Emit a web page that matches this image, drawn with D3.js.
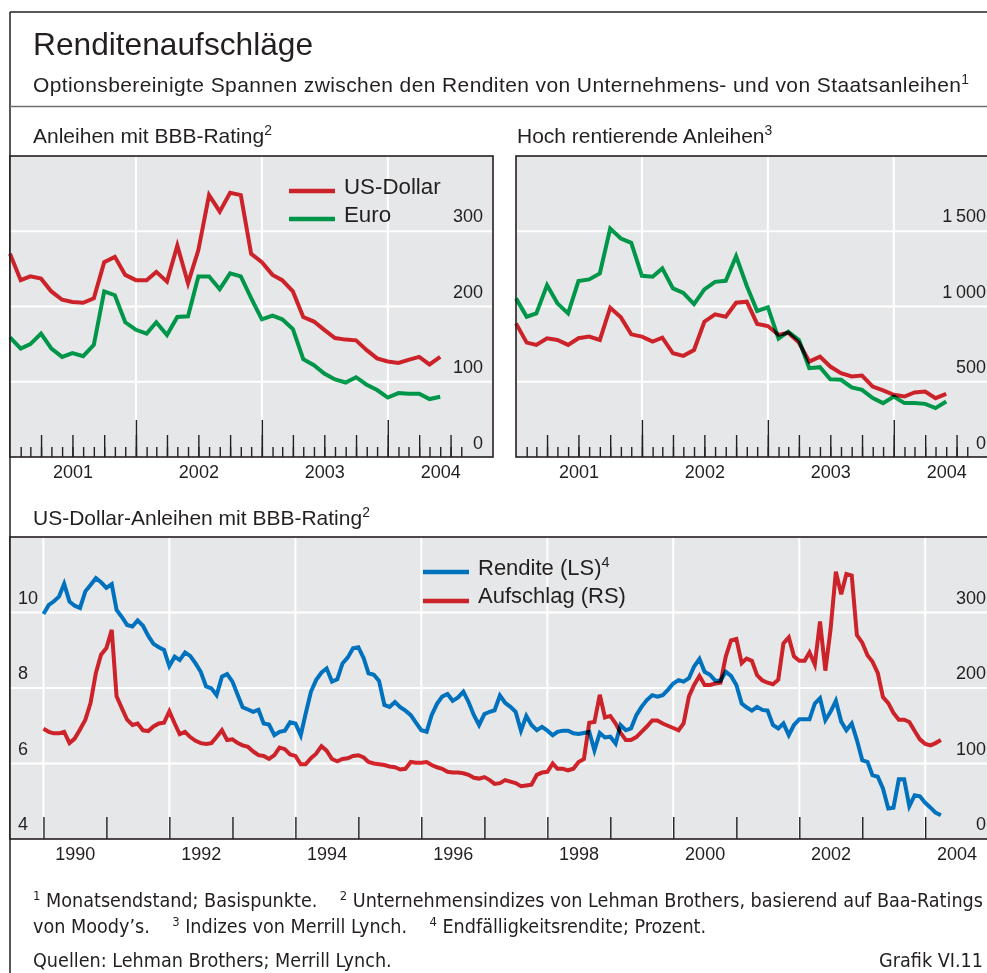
<!DOCTYPE html>
<html>
<head>
<meta charset="utf-8">
<script src="https://cdn.jsdelivr.net/npm/d3@7"></script>
<style>
    body { margin: 0; background: #fff; }
    svg { display: block; font-family: "Liberation Sans", Arial, sans-serif; }
    .pre { white-space: pre; }
    .lines path { mix-blend-mode: multiply; }
</style>
</head>
<body>
<div class="chart"></div>
<script>
// ---- data ----

// top panels, monthly Jan 2001 .. Jun 2004, basis points
var bbbUsd = [270, 235, 240, 237, 220, 209, 206, 205, 211, 259, 266, 242,
    235, 235, 246, 233, 281, 231, 275, 348, 326, 351, 348, 270,
    259, 242, 235, 220, 186, 180, 169, 158, 156, 155, 142, 131,
    127, 125, 129, 133, 123, 133];
var bbbEur = [159, 144, 150, 164, 144, 133, 138, 134, 149, 220, 215, 179,
    169, 164, 179, 162, 186, 187, 240, 240, 223, 244, 240, 211,
    183, 188, 183, 170, 130, 122, 111, 103, 99, 106, 96, 89,
    79, 85, 84, 84, 77, 80];
var hyUsd = [888, 760, 745, 789, 778, 745, 789, 800, 778, 992, 928, 815,
    800, 767, 793, 689, 672, 711, 899, 948, 932, 1025, 1032, 884,
    870, 811, 826, 760, 634, 667, 601, 557, 535, 541, 468, 442,
    413, 402, 429, 435, 391, 420];
var hyEur = [1054, 932, 954, 1142, 1021, 954, 1169, 1180, 1220, 1518, 1452, 1423,
    1204, 1198, 1253, 1120, 1091, 1016, 1114, 1164, 1171, 1334, 1136, 970,
    994, 787, 833, 778, 590, 597, 517, 513, 462, 446, 391, 358,
    402, 358, 358, 353, 325, 369];

// bottom panel, monthly Jan 1990 .. Apr 2004
var rendite = [
    9.96, 10.2, 10.29, 10.42, 10.76, 10.29, 10.18, 10.12, 10.56, 10.73, 10.91, 10.8,
    10.65, 10.75, 10.07, 9.88, 9.67, 9.63, 9.79, 9.65, 9.38, 9.17, 9.08, 9.01,
    8.58, 8.83, 8.74, 8.94, 8.85, 8.65, 8.43, 8.04, 7.99, 7.81, 8.3, 8.37,
    8.17, 7.81, 7.49, 7.43, 7.37, 7.42, 7.06, 7.03, 6.75, 6.84, 6.87, 7.09,
    7.06, 6.75, 7.31, 7.9, 8.21, 8.41, 8.52, 8.17, 8.23, 8.65, 8.81, 9.05,
    9.08, 8.79, 8.39, 8.35, 8.19, 7.55, 7.5, 7.63, 7.49, 7.4, 7.28, 7.08,
    6.88, 6.84, 7.28, 7.58, 7.77, 7.84, 7.66, 7.75, 7.9, 7.63, 7.28, 7.02,
    7.31, 7.37, 7.41, 7.8, 7.61, 7.5, 7.37, 6.87, 7.26, 7.02, 6.88, 6.97,
    6.87, 6.75, 6.84, 6.87, 6.87, 6.8, 6.78, 6.81, 6.84, 6.35, 6.81, 6.69,
    6.71, 6.53, 7.02, 6.88, 6.93, 7.28, 7.5, 7.68, 7.81, 7.77, 7.81, 7.95,
    8.12, 8.21, 8.17, 8.26, 8.57, 8.77, 8.43, 8.35, 8.19, 8.19, 8.43, 8.32,
    8.08, 7.59, 7.49, 7.4, 7.5, 7.42, 7.4, 7.02, 6.93, 7.06, 6.75, 7.02,
    7.17, 7.17, 7.17, 7.59, 7.73, 7.15, 7.37, 7.66, 7.11, 6.88, 7.06, 6.62,
    6.09, 6.04, 5.69, 5.65, 5.34, 4.81, 4.83, 5.58, 5.58, 4.87, 5.16, 5.13,
    4.96, 4.83, 4.7, 4.63];
var aufschlag = [
    146, 142, 140, 140, 142, 127, 133, 145, 158, 180, 220, 244,
    253, 277, 189, 173, 158, 151, 153, 144, 143, 149, 153, 154,
    169, 153, 139, 142, 135, 130, 127, 126, 127, 135, 144, 131,
    132, 127, 124, 122, 116, 111, 110, 106, 111, 121, 119, 112,
    110, 99, 99, 107, 113, 123, 117, 106, 103, 106, 107, 110,
    111, 108, 102, 100, 99, 98, 96, 95, 92, 93, 102, 101,
    101, 102, 98, 95, 93, 89, 88, 88, 87, 85, 81, 80,
    82, 78, 73, 74, 78, 76, 74, 70, 71, 72, 85, 88,
    89, 100, 93, 93, 91, 93, 102, 106, 154, 155, 191, 161,
    163, 153, 141, 131, 131, 135, 142, 149, 157, 157, 153, 150,
    147, 144, 153, 189, 204, 216, 204, 204, 206, 207, 242, 263,
    265, 233, 239, 236, 217, 210, 207, 205, 211, 259, 267, 242,
    236, 236, 247, 231, 288, 223, 277, 354, 324, 351, 349, 270,
    260, 243, 235, 220, 188, 180, 167, 158, 158, 155, 143, 132,
    126, 124, 127, 131];

var topYearLabels = [2001, 2002, 2003, 2004];
var bbbTicks = [0, 100, 200, 300];
var hyTicks = [0, 500, 1000, 1500];
var bottomYearLabels = [1990, 1992, 1994, 1996, 1998, 2000, 2002, 2004];
var renditeTicks = [4, 6, 8, 10];
var aufschlagTicks = [0, 100, 200, 300];

// ---- styles ----
var W = 987, H = 973;
var ink = "#231f20";
var red = "#e3262e", green = "#00a651", blue = "#007dd0";
var panelBg = "#e6e7e8";
var footFont = "\"DejaVu Sans Condensed\", \"Liberation Sans\", sans-serif";

var svg = d3.select(".chart").append("svg")
    .attr("width", W)
    .attr("height", H);

// text with superscript parts: strings are normal, [s] are superscripts
function addText(g, x, y, size, parts, anchor, family) {
    var t = g.append("text")
        .attr("class", "pre")
        .attr("x", x)
        .attr("y", y)
        .attr("font-size", size)
        .attr("fill", ink);
    if (anchor) t.attr("text-anchor", anchor);
    if (family) t.attr("font-family", family);
    var up = 0;
    parts.forEach(function (p) {
        if (typeof p === "string") {
            t.append("tspan").attr("dy", up).text(p);
            up = 0;
        } else {
            var s = size * 0.36;
            t.append("tspan").attr("dy", up - s).attr("font-size", size * 0.66).text(p[0]);
            up = s;
        }
    });
    return t;
}

// frame
svg.append("line").attr("x1", 10).attr("x2", W).attr("y1", 12).attr("y2", 12)
    .attr("stroke", ink).attr("stroke-width", 1.5);
svg.append("line").attr("x1", 10).attr("x2", 10).attr("y1", 12).attr("y2", H)
    .attr("stroke", ink).attr("stroke-width", 1.5);
svg.append("line").attr("x1", 10).attr("x2", W).attr("y1", 106.5).attr("y2", 106.5)
    .attr("stroke", "#6d6e70").attr("stroke-width", 1.6);

addText(svg, 33, 55, 31.7, ["Renditenaufschläge"]);
addText(svg, 33, 92, 21, ["Optionsbereinigte Spannen zwischen den Renditen von Unternehmens- und von Staatsanleihen", ["1"]])
    .attr("letter-spacing", 0.4);

addText(svg, 33, 143, 21, ["Anleihen mit BBB-Rating", ["2"]]);
addText(svg, 517, 143, 21, ["Hoch rentierende Anleihen", ["3"]]);
addText(svg, 33, 525, 21, ["US-Dollar-Anleihen mit BBB-Rating", ["2"]]);

function styleTicks(g) {
    g.select(".domain").remove();
    g.selectAll(".tick line").attr("stroke", ink).attr("stroke-width", 1.4);
    g.selectAll(".tick text").remove();
}

function fmt(v) {
    return v >= 1000 ? d3.format(",")(v).replace(",", "\u2009") : String(v);
}

// ---- top panels ----
function topPanel(left, top, yMax, yTicks, usd, eur, withLegend) {
    var w = 483, h = 301;
    var g = svg.append("g").attr("transform", "translate(" + left + "," + top + ")");
    var labelX = Math.min(w - 10, W - 1 - left);

    var x = d3.scaleTime()
        .domain([new Date(2001, 0, 1), new Date(2004, 10, 1)])
        .range([0, w]);
    var y = d3.scaleLinear()
        .domain([0, yMax])
        .range([h, 0]);

    g.append("rect").attr("width", w).attr("height", h).attr("fill", panelBg);

    g.selectAll(".hgrid")
        .data(yTicks.filter(function (d) { return d > 0; }))
        .enter().append("line")
        .attr("x1", 0).attr("x2", w)
        .attr("y1", y).attr("y2", y)
        .attr("stroke", "#fff").attr("stroke-width", 2);

    var yearStarts = [new Date(2002, 0, 1), new Date(2003, 0, 1), new Date(2004, 0, 1)];
    g.selectAll(".vgrid")
        .data(yearStarts)
        .enter().append("line")
        .attr("x1", x).attr("x2", x)
        .attr("y1", 0).attr("y2", h)
        .attr("stroke", "#fff").attr("stroke-width", 2);

    // month / quarter / year ticks pointing up from the bottom
    var months = d3.timeMonth.range(new Date(2001, 1, 1), new Date(2004, 8, 1));
    var quarters = months.filter(function (d) { return d.getMonth() % 3 === 0; });
    g.append("g").attr("transform", "translate(0," + h + ")")
        .call(d3.axisTop(x).tickValues(months).tickSize(10)).call(styleTicks);
    g.append("g").attr("transform", "translate(0," + h + ")")
        .call(d3.axisTop(x).tickValues(quarters).tickSize(22)).call(styleTicks);
    g.append("g").attr("transform", "translate(0," + h + ")")
        .call(d3.axisTop(x).tickValues(yearStarts).tickSize(37)).call(styleTicks);

    // year labels
    var labelDates = topYearLabels.map(function (yr) {
        return yr === 2004 ? new Date(2004, 5, 1) : new Date(yr, 6, 1);
    });
    var xa = g.append("g").attr("transform", "translate(0," + h + ")")
        .call(d3.axisBottom(x).tickValues(labelDates).tickSize(0).tickFormat(d3.timeFormat("%Y")));
    xa.select(".domain").remove();
    xa.selectAll("text")
        .attr("y", 21).attr("dy", null)
        .attr("font-size", 18).attr("font-family", "Liberation Sans, Arial, sans-serif")
        .attr("fill", ink);

    // y labels, right side, sitting just above their grid line
    g.selectAll(".ylab")
        .data(yTicks)
        .enter().append("text")
        .attr("x", labelX)
        .attr("y", function (d) { return d === 0 ? h - 8 : y(d) - 9; })
        .attr("text-anchor", "end")
        .attr("font-size", 18)
        .attr("fill", ink)
        .text(fmt);

    var line = d3.line()
        .x(function (d, i) { return x(new Date(2001, i, 1)); })
        .y(function (d) { return y(d); });

    var lg = g.append("g").attr("class", "lines");
    lg.append("path").datum(eur).attr("d", line)
        .attr("fill", "none").attr("stroke", green).attr("stroke-width", 4);
    lg.append("path").datum(usd).attr("d", line)
        .attr("fill", "none").attr("stroke", red).attr("stroke-width", 4);

    g.append("rect").attr("width", w).attr("height", h)
        .attr("fill", "none").attr("stroke", ink).attr("stroke-width", 1.6);

    if (withLegend) {
        var leg = g.append("g").attr("class", "lines");
        leg.append("path").attr("d", "M279,35H325").attr("stroke", red).attr("stroke-width", 4.5);
        leg.append("path").attr("d", "M279,63H325").attr("stroke", green).attr("stroke-width", 4.5);
        addText(g, 334, 38, 22.3, ["US-Dollar"]);
        addText(g, 334, 66, 22.3, ["Euro"]);
    }
}

topPanel(10, 156, 400, bbbTicks, bbbUsd, bbbEur, true);
topPanel(516, 156, 2000, hyTicks, hyUsd, hyEur, false);

// ---- bottom panel ----
(function () {
    var left = 10, top = 537, w = 989, h = 302;
    var g = svg.append("g").attr("transform", "translate(" + left + "," + top + ")");
    var labelX = Math.min(w - 10, W - 1 - left);

    var x = d3.scaleTime()
        .domain([new Date(1989, 5, 21), new Date(2005, 2, 4)])
        .range([0, w]);
    var yL = d3.scaleLinear().domain([4, 12]).range([h, 0]);
    var yR = d3.scaleLinear().domain([0, 400]).range([h, 0]);

    g.append("rect").attr("width", w).attr("height", h).attr("fill", panelBg);

    g.selectAll(".hgrid")
        .data(renditeTicks.filter(function (d) { return d > 4; }))
        .enter().append("line")
        .attr("x1", 0).attr("x2", w)
        .attr("y1", yL).attr("y2", yL)
        .attr("stroke", "#fff").attr("stroke-width", 2);

    var gridYears = bottomYearLabels.map(function (yr) { return new Date(yr, 0, 1); });
    g.selectAll(".vgrid")
        .data(gridYears)
        .enter().append("line")
        .attr("x1", x).attr("x2", x)
        .attr("y1", 0).attr("y2", h)
        .attr("stroke", "#fff").attr("stroke-width", 2);

    var yearStarts = d3.range(1990, 2005).map(function (yr) { return new Date(yr, 0, 1); });
    g.append("g").attr("transform", "translate(0," + h + ")")
        .call(d3.axisTop(x).tickValues(yearStarts).tickSize(22)).call(styleTicks);

    var xa = g.append("g").attr("transform", "translate(0," + h + ")")
        .call(d3.axisBottom(x)
            .tickValues(bottomYearLabels.map(function (yr) { return new Date(yr, 6, 1); }))
            .tickSize(0).tickFormat(d3.timeFormat("%Y")));
    xa.select(".domain").remove();
    xa.selectAll("text")
        .attr("y", 21).attr("dy", null)
        .attr("font-size", 18).attr("font-family", "Liberation Sans, Arial, sans-serif")
        .attr("fill", ink);

    g.selectAll(".ylabL")
        .data(renditeTicks)
        .enter().append("text")
        .attr("x", 8)
        .attr("y", function (d) { return d === 4 ? h - 9 : yL(d) - 9; })
        .attr("font-size", 18)
        .attr("fill", ink)
        .text(fmt);
    g.selectAll(".ylabR")
        .data(aufschlagTicks)
        .enter().append("text")
        .attr("x", labelX)
        .attr("y", function (d) { return d === 0 ? h - 9 : yR(d) - 9; })
        .attr("text-anchor", "end")
        .attr("font-size", 18)
        .attr("fill", ink)
        .text(fmt);

    var month = function (i) { return new Date(1990, i, 1); };
    var lineL = d3.line().x(function (d, i) { return x(month(i)); }).y(function (d) { return yL(d); });
    var lineR = d3.line().x(function (d, i) { return x(month(i)); }).y(function (d) { return yR(d); });

    var lg = g.append("g").attr("class", "lines");
    lg.append("path").datum(rendite).attr("d", lineL)
        .attr("fill", "none").attr("stroke", blue).attr("stroke-width", 4);
    lg.append("path").datum(aufschlag).attr("d", lineR)
        .attr("fill", "none").attr("stroke", red).attr("stroke-width", 4);

    g.append("rect").attr("width", w).attr("height", h)
        .attr("fill", "none").attr("stroke", ink).attr("stroke-width", 1.6);

    var leg = g.append("g").attr("class", "lines");
    leg.append("path").attr("d", "M413,35H459").attr("stroke", blue).attr("stroke-width", 4.5);
    leg.append("path").attr("d", "M413,64H459").attr("stroke", red).attr("stroke-width", 4.5);
    addText(g, 468, 38, 22, ["Rendite (LS)", ["4"]]);
    addText(g, 468, 66, 22, ["Aufschlag (RS)"]);
})();

// ---- footnotes ----
addText(svg, 33, 907, 19.6, [["1"], " Monatsendstand; Basispunkte.    ", ["2"],
    " Unternehmensindizes von Lehman Brothers, basierend auf Baa-Ratings"], null, footFont);
addText(svg, 33, 933, 19.6, ["von Moody’s.    ", ["3"], " Indizes von Merrill Lynch.    ", ["4"],
    " Endfälligkeitsrendite; Prozent."], null, footFont);
addText(svg, 33, 967, 19.6, ["Quellen: Lehman Brothers; Merrill Lynch."], null, footFont);
addText(svg, 983, 967, 19.6, ["Grafik VI.11"], "end", footFont);
</script>
</body>
</html>
